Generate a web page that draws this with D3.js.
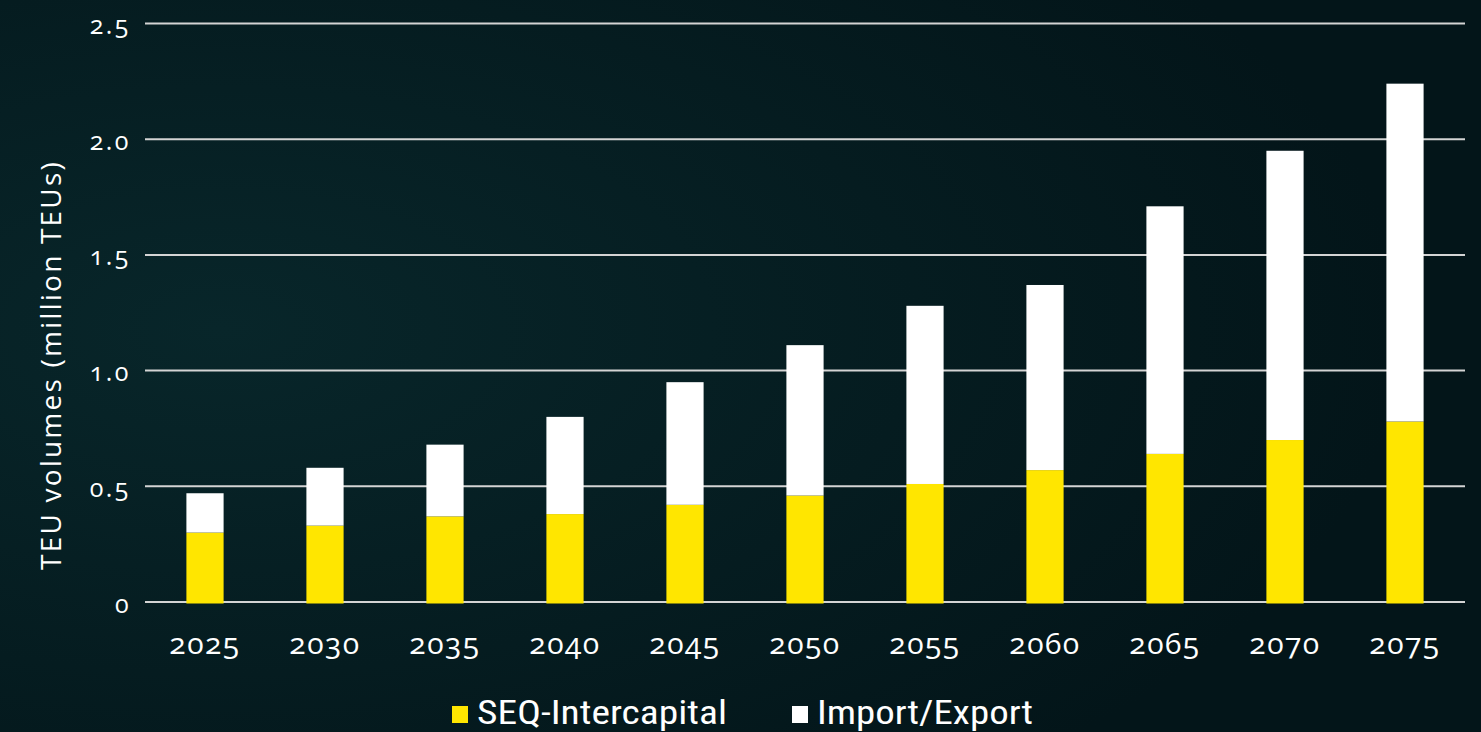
<!DOCTYPE html>
<html>
<head>
<meta charset="utf-8">
<script src="https://cdn.jsdelivr.net/npm/d3@7"></script>
<style>
  body { margin: 0; background: #041a1e; overflow: hidden; }
  svg { display: block; }
  .tick text { font-family: 'Open Sans', sans-serif; fill: #fff; font-variant-numeric: oldstyle-nums; }
</style>
</head>
<body>
<svg width="1481" height="732"></svg>
<script>
const years = ['2025', '2030', '2035', '2040', '2045', '2050', '2055', '2060', '2065', '2070', '2075']
const seqIntercapital = [0.30, 0.33, 0.37, 0.38, 0.42, 0.46, 0.51, 0.57, 0.64, 0.70, 0.78]
const importExport = [0.17, 0.25, 0.31, 0.42, 0.53, 0.65, 0.77, 0.80, 1.07, 1.25, 1.46]
const yTicks = [0, 0.5, 1.0, 1.5, 2.0, 2.5]
const seriesNames = ['SEQ-Intercapital', 'Import/Export']
const seriesColors = ['#ffe600', '#ffffff']

const width = 1481,
  height = 732

const svg = d3.select('svg')

// dark, slightly mottled backdrop
const defs = svg.append('defs')
const grad = defs.append('radialGradient').attr('id', 'glow').attr('cx', '15%').attr('cy', '45%').attr('r', '80%')
grad.append('stop').attr('offset', '0%').attr('stop-color', '#08262a')
grad.append('stop').attr('offset', '100%').attr('stop-color', '#031519')
svg.append('rect').attr('width', width).attr('height', height).attr('fill', 'url(#glow)')

const x = d3.scaleBand()
  .domain(years)
  .range([145, 1465])
  .paddingInner(0.69)
  .paddingOuter(0.345)

const y = d3.scaleLinear()
  .domain([0, 2.5])
  .range([602, 23.5])

// grid lines
svg.append('g')
  .selectAll('line')
  .data(yTicks)
  .enter().append('line')
  .attr('x1', 145)
  .attr('x2', 1465)
  .attr('y1', d => y(d))
  .attr('y2', d => y(d))
  .attr('stroke', '#d4d4d4')
  .attr('stroke-width', 2)

const stacked = d3.stack().keys([0, 1])(years.map((yr, i) => ({ year: yr, 0: seqIntercapital[i], 1: importExport[i] })))

svg.append('g')
  .selectAll('g')
  .data(stacked)
  .enter().append('g')
  .attr('fill', (d, i) => seriesColors[i])
  .selectAll('rect')
  .data(d => d)
  .enter().append('rect')
  .attr('x', d => x(d.data.year))
  .attr('width', x.bandwidth())
  .attr('y', d => y(d[1]))
  .attr('height', d => y(d[0]) - y(d[1]) + (d[0] === 0 ? 1.5 : 0))

// y axis
const yAxis = svg.append('g')
  .attr('transform', 'translate(131,0)')
  .call(d3.axisLeft(y).tickValues(yTicks).tickSize(0).tickPadding(0)
    .tickFormat(d => d === 0 ? '0' : d3.format('.1f')(d)))
yAxis.select('.domain').remove()
yAxis.selectAll('text')
  .attr('font-size', 25)
  .attr('letter-spacing', 2.5)
  .attr('dy', '0.4em')

// x axis
const xAxis = svg.append('g')
  .attr('transform', 'translate(0,628)')
  .call(d3.axisBottom(x).tickSize(0).tickPadding(0))
xAxis.select('.domain').remove()
xAxis.selectAll('text')
  .attr('font-size', 30)
  .attr('letter-spacing', 1.5)
  .attr('dy', '0.85em')

// axis title
svg.append('text')
  .attr('transform', 'translate(61,365) rotate(-90)')
  .attr('text-anchor', 'middle')
  .attr('font-family', "'Open Sans', sans-serif")
  .attr('font-size', 28)
  .attr('letter-spacing', 2.2)
  .attr('fill', '#fff')
  .text('TEU volumes (million TEUs)')

// legend
const legendX = [452, 792]
const legendW = [250, 216]
const legend = svg.append('g')
  .selectAll('g')
  .data(seriesNames)
  .enter().append('g')
  .attr('transform', (d, i) => `translate(${legendX[i]},706)`)
legend.append('rect')
  .attr('width', 16)
  .attr('height', 17)
  .attr('fill', (d, i) => seriesColors[i])
legend.append('text')
  .attr('x', 25)
  .attr('y', 18)
  .attr('font-family', "'Liberation Sans Narrow', 'Roboto Condensed', sans-serif")
  .attr('font-stretch', 'condensed')
  .attr('font-size', 34)
  .attr('textLength', (d, i) => legendW[i])
  .attr('lengthAdjust', 'spacingAndGlyphs')
  .attr('fill', '#fff')
  .text(d => d)
</script>
</body>
</html>
